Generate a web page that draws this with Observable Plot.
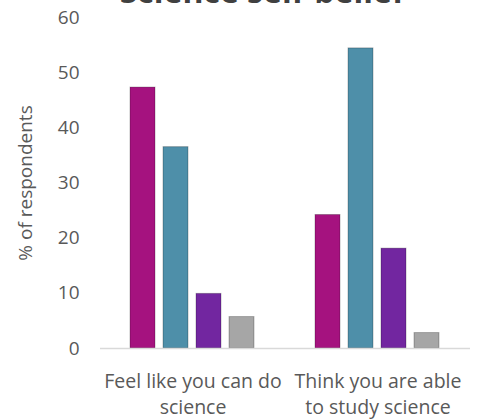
<!DOCTYPE html>
<html>
<head>
<meta charset="utf-8">
<script src="https://cdn.jsdelivr.net/npm/d3@7"></script>
<script src="https://cdn.jsdelivr.net/npm/@observablehq/plot@0.6"></script>
<style>
  html, body { margin: 0; padding: 0; background: white; }
  #wrap { position: relative; width: 478px; height: 419px; overflow: hidden; }
  #title { position: absolute; left: 0; width: 524px; top: -25px; text-align: center;
           font: bold 32px 'Open Sans', sans-serif; line-height: 1; color: #404040; }
</style>
</head>
<body>
<div id="wrap">
  <div id="title">Science self-belief</div>
  <div id="chart"></div>
</div>
<script>
const questions = ["Feel like you can do science", "Think you are able to study science"];
const questionLabels = ["Feel like you can do\nscience", "Think you are able\nto study science"];
const responses = ["Strongly agree", "Agree", "Disagree", "Strongly disagree"];
const colors = ["#a5127f", "#4e8fa9", "#7226a0", "#a6a6a6"];
const feelValues = [47.3, 36.5, 9.9, 5.7];
const thinkValues = [24.2, 54.4, 18.1, 2.8];
const yTicks = [0, 10, 20, 30, 40, 50, 60];

const seriesByQuestion = [feelValues, thinkValues];
const data = [];
questions.forEach((q, i) => responses.forEach((r, j) => data.push({question: q, response: r, value: seriesByQuestion[i][j]})));
const labelMap = Object.fromEntries(questions.map((q, i) => [q, questionLabels[i]]));

const chart = Plot.plot({
  width: 478,
  height: 419,
  marginLeft: 100,
  marginRight: 8,
  marginTop: 17,
  marginBottom: 71,
  style: {fontFamily: "'Open Sans', sans-serif", fontSize: "19px", background: "white"},
  fx: {domain: questions, padding: 0, axis: null},
  x: {domain: responses, paddingInner: 0.235, paddingOuter: 0.895, axis: null},
  y: {domain: [0, 60], axis: null},
  color: {domain: responses, range: colors},
  marks: [
    Plot.axisY(yTicks, {tickSize: 0, tickPadding: 21, fontSize: 19, color: "#595959", label: null, facetAnchor: "left"}),
    Plot.axisFx({anchor: "bottom", tickSize: 0, tickPadding: 21, lineHeight: 1.32, fontSize: 19.5, color: "#595959", label: null, tickFormat: d => labelMap[d]}),
    Plot.barY(data, {fx: "question", x: "response", y: "value", fill: "response", stroke: "black", strokeOpacity: 0.25, strokeWidth: 1}),
    Plot.ruleY([0], {stroke: "#d9d9d9", strokeWidth: 1.5}),
    Plot.text(["% of respondents"], {frameAnchor: "left", dx: -75, rotate: -90, textAnchor: "middle", fontSize: 19, fill: "#595959", facet: "super"})
  ]
});
document.getElementById("chart").appendChild(chart);
</script>
</body>
</html>
